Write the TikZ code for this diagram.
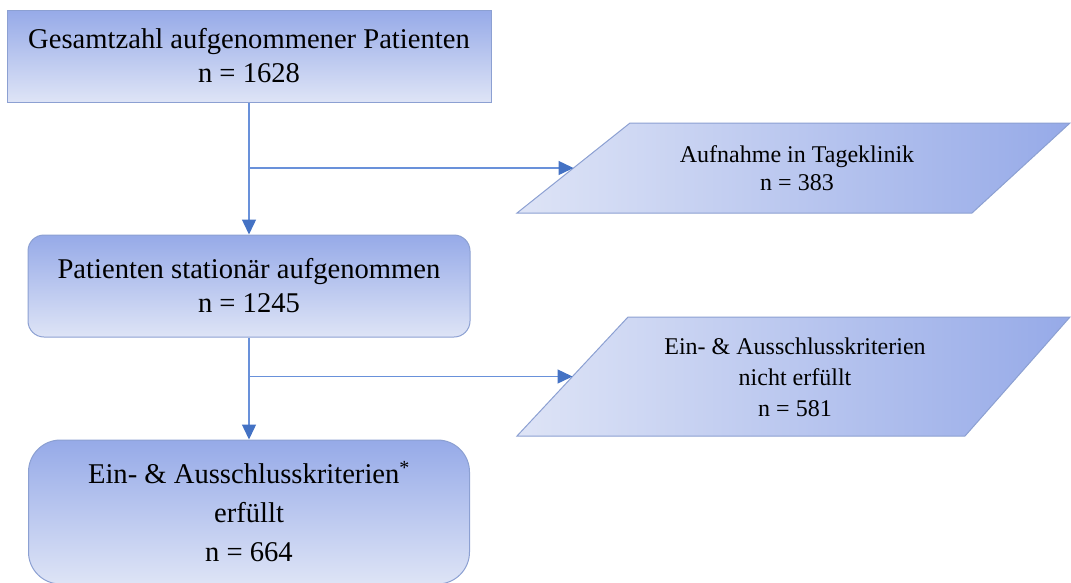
\documentclass[tikz,border=0pt]{standalone}
\usepackage{fontspec}
\setmainfont{Liberation Serif}
\usetikzlibrary{positioning, arrows.meta}
\definecolor{boxtop}{RGB}{150,170,232}
\definecolor{boxbot}{RGB}{222,228,246}
\definecolor{edgeblue}{RGB}{140,160,210}
\definecolor{lineblue}{RGB}{105,145,218}
\definecolor{tipblue}{RGB}{68,114,196}
\tikzset{
  box/.style={draw=edgeblue, line width=1pt, top color=boxtop, bottom color=boxbot, align=center, inner sep=0pt, font=\fontsize{28.6}{34}\selectfont},
  para/.style={draw=edgeblue, line width=1pt, left color=boxbot, right color=boxtop},
  paratext/.style={align=center, inner sep=0pt, font=\fontsize{24}{28}\selectfont},
  conn/.style={draw=lineblue, line width=1.4pt, -{Triangle[length=15pt, width=14pt, color=tipblue]}},
}

\begin{document}
\begin{tikzpicture}[x=1pt, y=-1pt]
  \useasboundingbox (0,0) rectangle (1071,582);
  \node[box, minimum width=484, minimum height=92] (total) at (249,56) {Gesamtzahl aufgenommener Patienten\\n = 1628};
  \node[box, rounded corners=16pt, minimum width=442, minimum height=102] (stat) at (249,286) {Patienten stationär aufgenommen\\n = 1245};
  \node[box, rounded corners=32pt, minimum width=441, minimum height=144, font=\fontsize{28.6}{39}\selectfont] (incl) at (249,512) {Ein- \& Ausschlusskriterien\textsuperscript{*}\\erfüllt\\n = 664};
  % Parallelogramme
  \path[para] (517,213) -- (630,123) -- (1070,123) -- (972,213) -- cycle;
  \node[paratext] (tk) at (797,168) {Aufnahme in Tageklinik\\n = 383};
  \path[para] (517,436) -- (628,317) -- (1070,317) -- (965,436) -- cycle;
  \node[paratext, font=\fontsize{24}{31}\selectfont] (excl) at (795,377) {Ein- \& Ausschlusskriterien\\nicht erfüllt\\n = 581};
  % Verzweigungen
  \coordinate (s1) at (249,168);
  \coordinate (tkin) at (573.5,168);
  \coordinate (s2) at (249,376.5);
  \coordinate (exclin) at (572.5,376.5);
  \draw[conn] (total) -- (stat);
  \draw[conn] (stat) -- (incl);
  \draw[conn] (s1) -- (tkin);
  \draw[conn] (s2) -- (exclin);
\end{tikzpicture}
\end{document}
